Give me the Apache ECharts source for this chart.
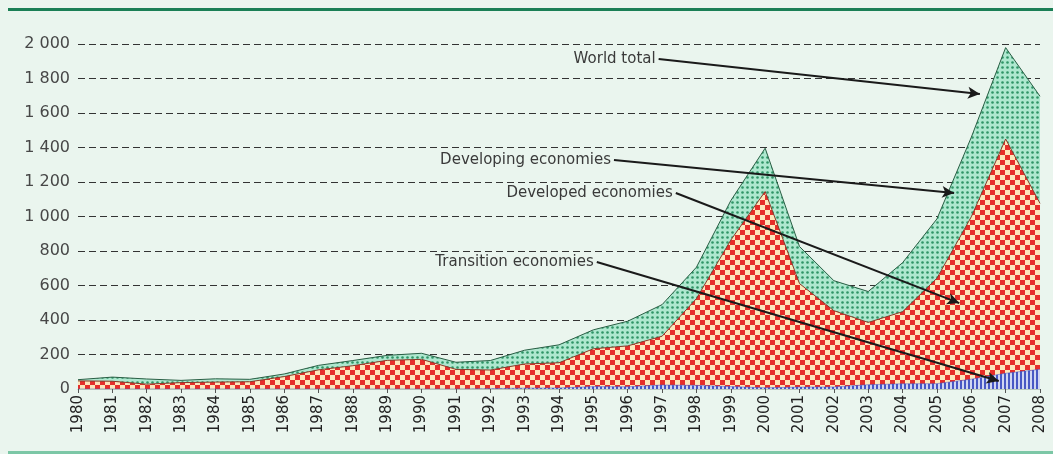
<!DOCTYPE html>
<html><head><meta charset="utf-8">
<script src="https://cdn.jsdelivr.net/npm/echarts@6/dist/echarts.min.js"></script>
<style>html,body{margin:0;padding:0;background:#eaf5ee;}#c{width:1053px;height:454px;}</style>
</head><body><div id="c"></div>
<script>
const years = [1980,1981,1982,1983,1984,1985,1986,1987,1988,1989,1990,1991,1992,1993,1994,1995,1996,1997,1998,1999,2000,2001,2002,2003,2004,2005,2006,2007,2008];
const transition = [0,0,0,0,0,0,0,0,0,0,0,0,2,5,6,14,13,23,21,14,7,11,12,25,30,31,57,91,114];
const developed = [47,45,28,37,40,42,72,111,135,166,172,114,108,140,146,219,237,283,503,849,1138,600,442,361,418,611,941,1358,962];
const developing = [7,24,30,13,19,14,15,26,30,29,35,41,55,80,104,110,143,183,182,229,251,215,174,179,284,344,461,530,621];
const yTicks = [0,200,400,600,800,1000,1200,1400,1600,1800,2000];
const yTickLabels = ['0','200','400','600','800','1 000','1 200','1 400','1 600','1 800','2 000'];
// annotations in data coordinates: label anchor (text ends here) and arrow tip
const annotations = [
  {label:'World total', from:[1996.9,1913], to:[2006.25,1710]},
  {label:'Developing economies', from:[1995.6,1327], to:[2005.5,1136]},
  {label:'Developed economies', from:[1997.4,1136], to:[2005.65,498]},
  {label:'Transition economies', from:[1995.1,736], to:[2006.8,46]}
];

function pattern(w,h,draw){const c=document.createElement('canvas');c.width=w;c.height=h;const g=c.getContext('2d');draw(g);return {image:c,repeat:'repeat'};}
const checker = pattern(10,10,g=>{g.fillStyle='#fde6bb';g.fillRect(0,0,10,10);g.fillStyle='#e62e2a';g.fillRect(0,0,5,5);g.fillRect(5,5,5,5);});
const dots = pattern(5,5,g=>{g.fillStyle='#aee8cf';g.fillRect(0,0,5,5);g.fillStyle='#2f9466';g.beginPath();g.arc(2.5,2.5,1.3,0,Math.PI*2);g.fill();});
const stripes = pattern(4,4,g=>{g.fillStyle='#d0d6f2';g.fillRect(0,0,4,4);g.fillStyle='#4858c4';g.fillRect(0,0,2,4);});

// cumulative (stacked) layers built from the arrays above
const lvl1 = transition.slice();
const lvl2 = transition.map((v,i)=>v+developed[i]);
const lvl3 = lvl2.map((v,i)=>v+developing[i]);
const pairs = arr => years.map((y,i)=>[y,arr[i]]);
const FONT = 'DejaVu Sans';
const chart = echarts.init(document.getElementById('c'));
chart.setOption({
  backgroundColor:'#eaf5ee',
  animation:false,
  graphic:[
    {type:'rect',shape:{x:8,y:8,width:1045,height:3},style:{fill:'#1a7f55'}},
    {type:'rect',shape:{x:8,y:451,width:1045,height:3},style:{fill:'#7cc7a6'}}
  ],
  grid:{left:78,right:13,top:44,bottom:65},
  xAxis:{type:'value',min:1980,max:2008,interval:1,
    axisLine:{show:true,lineStyle:{color:'#b9c9bd',width:1}},
    axisTick:{show:true,length:4,lineStyle:{color:'#555'}},
    splitLine:{show:false},
    axisLabel:{rotate:90,fontSize:15,color:'#222',fontFamily:FONT,margin:6,formatter:v=>String(v)}},
  yAxis:{type:'value',min:0,max:2000,interval:200,
    axisLine:{show:false},axisTick:{show:false},
    splitLine:{show:true,lineStyle:{color:'#333',type:[7,4],width:1}},
    axisLabel:{fontSize:16,color:'#474747',fontFamily:FONT,margin:8,
      formatter:v=>yTickLabels[yTicks.indexOf(v)]}},
  series:[
    {name:'Developing economies',type:'line',symbol:'none',data:pairs(lvl3),z:2,
      lineStyle:{width:1,color:'#2a5f45'},areaStyle:{color:dots,opacity:1}},
    {name:'Developed economies',type:'line',symbol:'none',data:pairs(lvl2),z:3,
      lineStyle:{width:1,color:'#8a3a2a'},areaStyle:{color:checker,opacity:1}},
    {name:'Transition economies',type:'line',symbol:'none',data:pairs(lvl1),z:4,
      lineStyle:{width:0.5,color:'#4858c4'},areaStyle:{color:stripes,opacity:1},
      markLine:{silent:true,symbol:['none','arrow'],symbolSize:[9,12],
        lineStyle:{color:'#1a1a1a',width:2,type:'solid'},label:{show:false},
        data:annotations.map(a=>[{coord:a.from},{coord:a.to}])},
      markPoint:{silent:true,symbol:'circle',symbolSize:0,
        data:annotations.map(a=>({coord:a.from,value:a.label,
          label:{show:true,position:'left',distance:3,formatter:a.label,fontSize:15,color:'#3a3a3a',fontFamily:FONT}}))}}
  ]
});
</script></body></html>
